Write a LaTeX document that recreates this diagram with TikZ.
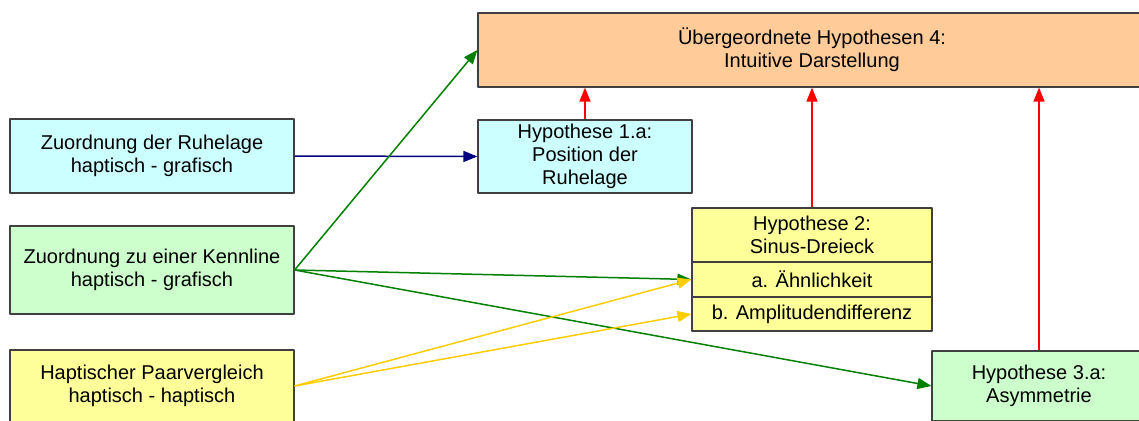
\documentclass[tikz,border=0pt]{standalone}
\usepackage{fontspec}
\setmainfont{Liberation Sans}
\usetikzlibrary{arrows.meta}
\definecolor{peach}{HTML}{FFCC99}
\definecolor{hellcyan}{HTML}{CCFFFF}
\definecolor{hellgruen}{HTML}{CCFFCC}
\definecolor{hellgelb}{HTML}{FFFF99}
\definecolor{pfgruen}{HTML}{008000}
\definecolor{pfblau}{HTML}{000080}
\definecolor{pfgelb}{HTML}{FFCC00}
\definecolor{rahmen}{HTML}{404040}
\tikzset{
	kasten/.style={draw=rahmen,line width=1.2pt,inner sep=0pt,align=center},
	pfeil/.style={line width=1.5pt,-{Triangle[length=14pt,width=11pt]}}
}
\begin{document}
\begin{tikzpicture}[x=1pt,y=-1pt,line
			join=round,font=\fontsize{20}{23}\selectfont]
			\def\lw{284}
			\def\hw{214}
			\useasboundingbox (0,0) rectangle (1139,420);
			\clip (0,0) rectangle (1139,420);
			% linke Spalte
			\node[kasten,fill=hellcyan,minimum width=\lw,minimum height=74]
			(ruhe) at (152,156) {Zuordnung der Ruhelage\\haptisch - grafisch};
			\node[kasten,fill=hellgruen,minimum width=\lw,minimum height=88]
			(kenn) at (152,270) {Zuordnung zu einer Kennline\\haptisch - grafisch};
			\node[kasten,fill=hellgelb,minimum width=\lw,minimum height=72]
			(paar) at (152,386) {Haptischer Paarvergleich\\haptisch - haptisch};
			% Hypothesen
			\node[kasten,fill=peach,minimum width=668,minimum height=74]
			(ueber) at (812,50) {Übergeordnete Hypothesen 4:\\Intuitive Darstellung};
			\node[kasten,fill=hellcyan,minimum width=\hw,minimum height=73]
			(hypA) at (585,156.5) {Hypothese 1.a:\\Position der\\Ruhelage};
			\node[kasten,fill=hellgelb,minimum width=240,minimum height=54]
			(hypB) at (812,235) {Hypothese 2:\\Sinus-Dreieck};
			\node[kasten,fill=hellgelb,minimum width=240,minimum height=35]
			(hypBa) at (812,279.5) {a. Ähnlichkeit};
			\node[kasten,fill=hellgelb,minimum width=240,minimum height=34]
			(hypBb) at (812,314) {b. Amplitudendifferenz};
			\node[kasten,fill=hellgruen,minimum width=\hw,minimum height=70]
			(hypC) at (1039,386) {Hypothese 3.a:\\Asymmetrie};
			% Pfeile
			\draw[pfeil,pfblau] (ruhe.east)--(hypA.west);
			\draw[pfeil,pfgruen] (kenn.east)--(ueber.west);
			\draw[pfeil,pfgruen] (kenn.east)--(hypBa.west);
			\draw[pfeil,pfgruen] (kenn.east)--(hypC.west);
			\draw[pfeil,pfgelb] (paar.east)--(hypBa.west);
			\draw[pfeil,pfgelb] (paar.east)--(hypBb.west);
			\foreach \h in {hypA,hypB,hypC}
			\draw[pfeil,red] (\h.north)--(\h.north |- ueber.south);
	\end{tikzpicture}
\end{document}
